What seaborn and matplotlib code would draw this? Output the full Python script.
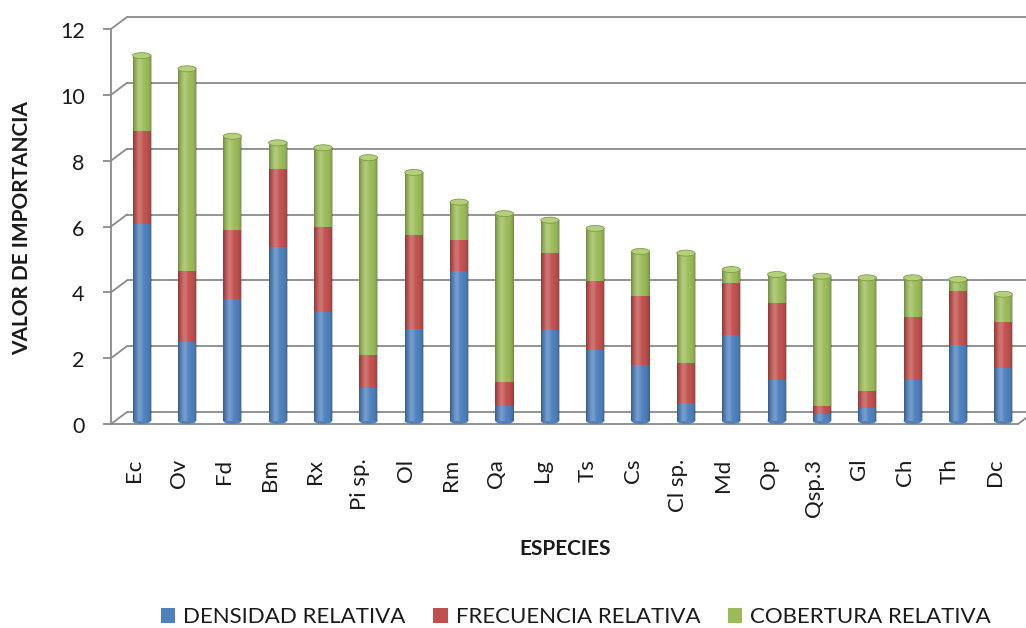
import numpy as np
import pandas as pd
import matplotlib
matplotlib.use("Agg")
import matplotlib.pyplot as plt
import matplotlib.transforms as mtransforms
from matplotlib.patches import ConnectionPatch, Ellipse, Patch
import seaborn as sns

# Species and the three relative components of the importance value
especies = ["Ec", "Ov", "Fd", "Bm", "Rx", "Pi sp.", "Ol", "Rm", "Qa", "Lg",
            "Ts", "Cs", "Cl sp.", "Md", "Op", "Qsp.3", "Gl", "Ch", "Th", "Dc"]
densidad = [6.0, 2.4, 3.7, 5.3, 3.3, 1.0, 2.8, 4.55, 0.45, 2.75,
            2.15, 1.7, 0.55, 2.6, 1.25, 0.2, 0.4, 1.25, 2.3, 1.6]
frecuencia = [2.8, 2.15, 2.1, 2.35, 2.6, 1.0, 2.85, 0.95, 0.75, 2.35,
              2.1, 2.1, 1.2, 1.6, 2.35, 0.25, 0.5, 1.9, 1.65, 1.4]
cobertura = [2.3, 6.15, 2.85, 0.8, 2.4, 6.0, 1.9, 1.15, 5.1, 1.0,
             1.6, 1.35, 3.35, 0.4, 0.85, 3.95, 3.45, 1.2, 0.35, 0.85]
series_names = ["DENSIDAD RELATIVA", "FRECUENCIA RELATIVA", "COBERTURA RELATIVA"]
y_ticks = [0, 2, 4, 6, 8, 10, 12]

colors = ["#4F81BD", "#C0504D", "#9BBB59"]
cap_color = "#B3D07A"
grid_color = "#8A8A8A"
text_color = "#1a1a1a"

df = pd.DataFrame({"especie": especies, "D": densidad, "F": frecuencia, "C": cobertura})
df["DF"] = df["D"] + df["F"]
df["total"] = df["DF"] + df["C"]

sns.set_theme(style="white")
plt.rcParams["font.family"] = ["Lato", "DejaVu Sans"]

W, H = 1026, 628
fig = plt.figure(figsize=(W / 100, H / 100), dpi=100)
ax = fig.add_axes([111 / W, (H - 424) / H, (1018 - 111) / W, (424 - 29) / H])
ax.patch.set_visible(False)

def px_offset(dx, dy):
    return mtransforms.ScaledTranslation(dx / 100, dy / 100, fig.dpi_scale_trans)

bar_tr = ax.transData + px_offset(8, 3)
back_tr = ax.transData + px_offset(16, 12)
bar_w = 0.4

# Stacked columns: total first, then the lower layers on top of it
for col, c in zip(["total", "DF", "D"], colors[::-1]):
    sns.barplot(data=df, x="especie", y=col, color=c, saturation=1,
                width=bar_w, errorbar=None, ax=ax, zorder=3, linewidth=0)
for p in ax.patches:
    p.set_transform(bar_tr)
    p.set_clip_on(False)

# Cylinder shading: soft highlight left of centre, darker rims
u = np.linspace(-1, 1, 64)
highlight = np.zeros((1, 64, 4))
highlight[..., :3] = 1.0
highlight[0, :, 3] = 0.22 * np.exp(-((u + 0.3) / 0.35) ** 2)
rim = np.zeros((1, 64, 4))
rim[0, :, 3] = 0.28 * np.abs(u) ** 4

cap_h = 6 / 32.9
for i, (tot, d) in enumerate(zip(df["total"], df["D"])):
    for img in (highlight, rim):
        im = ax.imshow(img, extent=(i - bar_w / 2, i + bar_w / 2, 0, tot),
                       aspect="auto", interpolation="bilinear", zorder=3.5)
        im.set_transform(bar_tr)
        im.set_clip_on(False)
    ax.add_patch(Ellipse((i, tot), bar_w, cap_h, transform=bar_tr, facecolor=cap_color,
                         edgecolor="#7F9A48", lw=0.6, zorder=4, clip_on=False))
    ax.add_patch(Ellipse((i, 0), bar_w, cap_h, transform=bar_tr, facecolor=colors[0],
                         edgecolor="none", zorder=2.9, clip_on=False))

# Back wall gridlines and floor
for t in y_ticks:
    ax.plot([-0.5, 19.8], [t, t], transform=back_tr, color=grid_color, lw=1.3,
            clip_on=False, zorder=1, solid_capstyle="butt")
    ax.add_artist(ConnectionPatch((-0.5, t), (-0.5, t), coordsA=ax.transData,
                                  coordsB=back_tr, color=grid_color, lw=1.3, zorder=1))
ax.add_artist(ConnectionPatch((19.5, 0), (19.5, 0), coordsA=ax.transData,
                              coordsB=back_tr, color=grid_color, lw=1.3, zorder=1))

ax.set_xlim(-0.5, 19.5)
ax.set_ylim(0, 12)
ax.set_yticks(y_ticks)
ax.set_yticklabels([str(t) for t in y_ticks], fontsize=15.5, color=text_color)
ax.set_xticks(range(len(especies)))
ax.set_xticklabels(especies, rotation=90, fontsize=16, color=text_color)
ax.set_xticks(np.arange(-0.5, len(especies)), minor=True)
ax.tick_params(axis="x", which="major", length=0, pad=25)
ax.tick_params(axis="x", which="minor", length=6.5, width=1.3, color=grid_color, direction="out")
ax.tick_params(axis="y", length=6, width=1.3, color=grid_color, direction="out", pad=13, left=True)
for lab in ax.get_yticklabels():
    lab.set_transform(lab.get_transform() + px_offset(0, -1))
for lab in ax.get_xticklabels():
    lab.set_verticalalignment("top")

for s in ["top", "right"]:
    ax.spines[s].set_visible(False)
for s in ["left", "bottom"]:
    ax.spines[s].set_color(grid_color)
    ax.spines[s].set_linewidth(1.3)
ax.set_xlabel("")
ax.set_ylabel("")

fig.text(565 / W, 1 - 549 / H, "ESPECIES", ha="center", va="center",
         fontsize=15, fontweight="bold", color=text_color)
fig.text(22 / W, 1 - 228 / H, "VALOR DE IMPORTANCIA", ha="center", va="center",
         rotation=90, fontsize=15, fontweight="bold", color=text_color)

handles = [Patch(facecolor=c, edgecolor="none") for c in colors]
fig.legend(handles, series_names, loc="center", bbox_to_anchor=(576 / W, 1 - 617 / H),
           ncol=3, frameon=False, fontsize=16, handlelength=0.65, handleheight=0.65,
           handletextpad=0.35, columnspacing=1.25, labelcolor=text_color)

fig.savefig("out.png", dpi=100)
